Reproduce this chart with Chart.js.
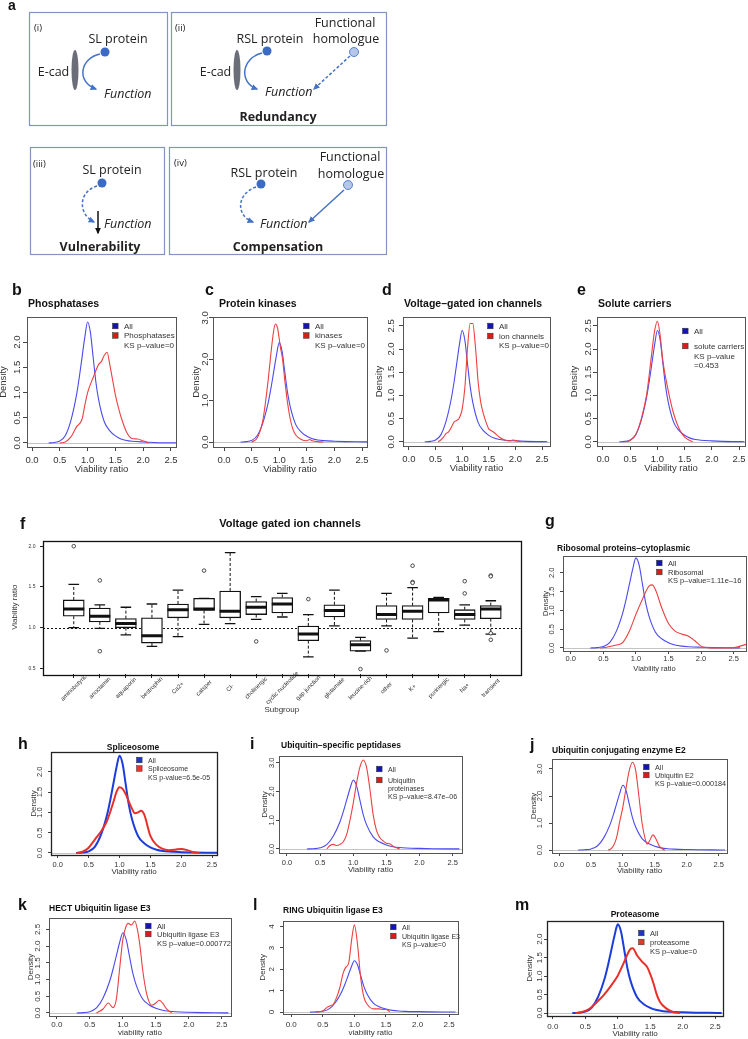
<!DOCTYPE html>
<html>
<head>
<meta charset="utf-8">
<script src="https://cdn.jsdelivr.net/npm/chart.js@4.4.1/dist/chart.umd.min.js"></script>
<style>
  html, body { margin: 0; padding: 0; background: #fff; }
  body { width: 748px; height: 1039px; position: relative; overflow: hidden; }
  canvas { position: absolute; }
  #overlay { position: absolute; left: 0; top: 0; z-index: 2; }
</style>
</head>
<body>
<svg id="overlay" width="748" height="1039" font-family="'Liberation Sans', Arial, sans-serif">
  <defs>
    <marker id="ah" viewBox="0 0 10 10" refX="8" refY="5" markerWidth="4.5" markerHeight="4.5" orient="auto"><path d="M0,0.5 L10,5 L0,9.5 z" fill="#4472c4"/></marker>
    <marker id="ahk" viewBox="0 0 10 10" refX="8" refY="5" markerWidth="4.5" markerHeight="4.5" orient="auto"><path d="M0,0.5 L10,5 L0,9.5 z" fill="#111"/></marker>
  </defs>
  <!-- panel a schematic -->
  <g font-family="'Open Sans', sans-serif" fill="#222">
    <g fill="none" stroke="#8196bc" stroke-width="1.2">
      <rect x="29.5" y="12.5" width="138" height="113"/>
      <rect x="171.5" y="12.5" width="215" height="113"/>
      <rect x="30.5" y="147.5" width="134" height="107"/>
      <rect x="169.5" y="147.5" width="217" height="107"/>
    </g>
    <g font-size="9.5"><text x="34" y="31">(i)</text><text x="175" y="31">(ii)</text><text x="33" y="167">(iii)</text><text x="174" y="166">(iv)</text></g>
    <g font-size="12.5" text-anchor="middle">
      <text x="118" y="43">SL protein</text><text x="270" y="43">RSL protein</text>
      <text x="345" y="27">Functional</text><text x="346" y="43">homologue</text>
      <text x="112" y="174">SL protein</text><text x="264" y="177">RSL protein</text>
      <text x="350" y="161">Functional</text><text x="351" y="178">homologue</text>
      <text x="53.5" y="76">E-cad</text><text x="215.5" y="76">E-cad</text>
    </g>
    <g font-size="12.5" font-style="italic">
      <text x="104" y="98">Function</text><text x="265" y="96">Function</text>
      <text x="104" y="228">Function</text><text x="260" y="228">Function</text>
    </g>
    <g font-size="12.5" font-weight="bold" text-anchor="middle">
      <text x="278" y="121">Redundancy</text><text x="100" y="251">Vulnerability</text><text x="278" y="251">Compensation</text>
    </g>
    <g fill="#6b6e78"><ellipse cx="75" cy="70" rx="3.5" ry="20"/><ellipse cx="237" cy="70" rx="3.5" ry="20"/></g>
    <g fill="#3b6bc4"><circle cx="105" cy="52" r="4.5"/><circle cx="267" cy="51" r="4.5"/><circle cx="102" cy="183" r="4.5"/><circle cx="261" cy="184" r="4.5"/></g>
    <g fill="#b4c7e7" stroke="#3b6bc4" stroke-width="0.8"><circle cx="354" cy="52" r="4.5"/><circle cx="348" cy="185" r="4.5"/></g>
    <g fill="none" stroke="#4472c4" stroke-width="1.5" marker-end="url(#ah)">
      <path d="M100,54 C80,58 76,82 96,89"/>
      <path d="M262,53 C242,58 238,82 257,89"/>
      <path d="M350,56 L314,89" stroke-dasharray="3,2"/>
      <path d="M97,186 C78,192 78,214 94,222" stroke-dasharray="3,2"/>
      <path d="M256,187 C236,194 236,216 253,222" stroke-dasharray="3,2"/>
      <path d="M344,190 L309,222"/>
    </g>
    <path d="M98,211 L98,233" stroke="#111" stroke-width="1.5" marker-end="url(#ahk)"/>
  </g>
  <!-- panel letters -->
  <g font-weight="bold" font-size="16" fill="#111">
    <text x="8" y="10" font-size="14">a</text>
    <text x="12" y="295">b</text><text x="205" y="295">c</text><text x="382" y="295">d</text><text x="577" y="295">e</text>
    <text x="20" y="529">f</text><text x="545" y="526">g</text>
    <text x="18" y="749">h</text><text x="250" y="749">i</text><text x="530" y="750">j</text>
    <text x="18" y="910">k</text><text x="253" y="910">l</text><text x="515" y="910">m</text>
  </g>
  <!-- panel titles -->
  <g font-weight="bold" fill="#111">
    <text x="28" y="307" font-size="10.5">Phosphatases</text>
    <text x="219" y="307" font-size="10.5">Protein kinases</text>
    <text x="404" y="307" font-size="10.5">Voltage–gated ion channels</text>
    <text x="598" y="307" font-size="10.5">Solute carriers</text>
    <text x="290" y="527" font-size="11" text-anchor="middle">Voltage gated ion channels</text>
    <text x="557" y="551" font-size="8.5">Ribosomal proteins–cytoplasmic</text>
    <text x="133" y="750" font-size="8.5" text-anchor="middle">Spliceosome</text>
    <text x="281" y="748" font-size="8.5">Ubiquitin–specific peptidases</text>
    <text x="552" y="753" font-size="8.5">Ubiquitin conjugating enzyme E2</text>
    <text x="49" y="911" font-size="8.5">HECT Ubiquitin ligase E3</text>
    <text x="283" y="913" font-size="8.5">RING Ubiquitin ligase E3</text>
    <text x="635" y="917" font-size="8.5" text-anchor="middle">Proteasome</text>
  </g>
  <g id="legends"></g>
</svg>
<script>
// ---- data ----
const X_TICKS = [0, 0.5, 1, 1.5, 2, 2.5];
const Y_TICKS_20 = [0, 0.5, 1, 1.5, 2];
const Y_TICKS_25 = [0, 0.5, 1, 1.5, 2, 2.5];
const Y_TICKS_3 = [0, 1, 2, 3];
const Y_TICKS_4 = [0, 1, 2, 3, 4];

// "All" genes density, shared by every density panel
const ALL_X = [0.3, 0.4, 0.5, 0.6, 0.7, 0.8, 0.85, 0.9, 0.95, 1.0, 1.05, 1.1, 1.15, 1.2, 1.3, 1.4, 1.5, 1.6, 1.7, 1.8, 2.0, 2.2, 2.4, 2.6];
const ALL_Y = [0, 0.01, 0.04, 0.15, 0.45, 0.95, 1.3, 1.7, 2.1, 2.4, 2.2, 1.7, 1.2, 0.85, 0.42, 0.24, 0.14, 0.08, 0.05, 0.035, 0.02, 0.01, 0.005, 0.003];

const PHOS_X = [0.5, 0.6, 0.7, 0.8, 0.9, 0.95, 1.0, 1.1, 1.2, 1.25, 1.3, 1.35, 1.4, 1.45, 1.5, 1.55, 1.6, 1.7, 1.8, 1.9, 2.0, 2.1];
const PHOS_Y = [0, 0.02, 0.12, 0.32, 0.47, 0.75, 1.0, 1.3, 1.56, 1.62, 1.74, 1.8, 1.55, 1.25, 0.95, 0.72, 0.52, 0.22, 0.09, 0.08, 0.04, 0];
const KIN_X = [0.5, 0.6, 0.7, 0.75, 0.8, 0.85, 0.9, 0.93, 0.97, 1.02, 1.06, 1.1, 1.15, 1.2, 1.25, 1.3, 1.4, 1.5, 1.55, 1.6, 1.7, 1.8];
const KIN_Y = [0, 0.1, 0.5, 0.95, 1.5, 2.15, 2.7, 2.85, 2.75, 2.3, 2.0, 1.5, 0.95, 0.55, 0.3, 0.17, 0.06, 0.03, 0.06, 0.03, 0.01, 0];
const ION_X = [0.55, 0.6, 0.65, 0.7, 0.75, 0.8, 0.85, 0.9, 0.95, 1.0, 1.05, 1.1, 1.15, 1.2, 1.25, 1.3, 1.35, 1.4, 1.45, 1.5, 1.55, 1.6, 1.7, 1.8, 1.9, 1.95, 2.0, 2.1];
const ION_Y = [0, 0.04, 0.1, 0.18, 0.22, 0.32, 0.43, 0.46, 0.52, 0.7, 1.15, 2.0, 2.55, 2.55, 2.05, 1.3, 0.85, 0.6, 0.42, 0.28, 0.24, 0.2, 0.1, 0.04, 0.02, 0.04, 0.03, 0];
const SOL_X = [0.4, 0.5, 0.6, 0.7, 0.8, 0.85, 0.9, 0.95, 1.0, 1.05, 1.1, 1.2, 1.3, 1.4, 1.5, 1.6, 1.65];
const SOL_Y = [0, 0.03, 0.15, 0.48, 1.0, 1.45, 1.95, 2.4, 2.6, 2.3, 1.75, 1.1, 0.6, 0.28, 0.1, 0.03, 0];
const RIB_X = [0.45, 0.55, 0.65, 0.75, 0.8, 0.9, 1.0, 1.1, 1.2, 1.25, 1.3, 1.4, 1.5, 1.6, 1.7, 1.8, 1.9, 2.0, 2.1, 2.3, 2.5, 2.6, 2.7];
const RIB_Y = [0, 0.02, 0.06, 0.1, 0.15, 0.45, 0.9, 1.3, 1.65, 1.68, 1.55, 1.05, 0.65, 0.45, 0.37, 0.32, 0.2, 0.05, 0.01, 0, 0.01, 0.05, 0.1];
const SPL_X = [0.3, 0.4, 0.5, 0.6, 0.7, 0.8, 0.9, 0.95, 1.0, 1.05, 1.1, 1.2, 1.25, 1.3, 1.35, 1.4, 1.5, 1.6, 1.7, 1.8, 1.9, 2.0, 2.1, 2.2, 2.3];
const SPL_Y = [0, 0.03, 0.13, 0.33, 0.53, 0.8, 1.25, 1.5, 1.62, 1.58, 1.45, 1.1, 0.98, 1.0, 1.04, 0.95, 0.42, 0.2, 0.1, 0.07, 0.08, 0.1, 0.07, 0.02, 0];
const USP_X = [0.6, 0.65, 0.7, 0.75, 0.8, 0.85, 0.9, 0.95, 1.0, 1.05, 1.1, 1.15, 1.2, 1.25, 1.3, 1.35, 1.4, 1.45, 1.5, 1.55, 1.6, 1.65, 1.7];
const USP_Y = [0, 0.12, 0.16, 0.12, 0.16, 0.25, 0.5, 1.0, 1.6, 2.3, 2.85, 3.1, 2.85, 2.1, 1.2, 0.65, 0.4, 0.28, 0.2, 0.18, 0.1, 0.04, 0];
const E2_X = [0.77, 0.8, 0.85, 0.9, 0.95, 1.0, 1.05, 1.1, 1.15, 1.2, 1.25, 1.3, 1.35, 1.38, 1.42, 1.47, 1.52, 1.57, 1.62, 1.66];
const E2_Y = [0, 0.02, 0.15, 0.45, 1.05, 1.6, 2.3, 2.95, 3.25, 2.95, 2.0, 1.0, 0.4, 0.22, 0.35, 0.56, 0.4, 0.15, 0.04, 0];
const HECT_X = [0.6, 0.7, 0.78, 0.85, 0.9, 0.95, 1.0, 1.05, 1.08, 1.13, 1.18, 1.22, 1.26, 1.3, 1.36, 1.44, 1.5, 1.55, 1.6, 1.66, 1.74];
const HECT_Y = [0, 0.12, 0.3, 0.16, 0.4, 1.3, 2.2, 2.6, 2.68, 2.63, 2.75, 2.5, 2.0, 1.3, 0.58, 0.23, 0.3, 0.38, 0.3, 0.13, 0];
const RING_X = [0.4, 0.5, 0.57, 0.62, 0.67, 0.72, 0.77, 0.82, 0.86, 0.91, 0.96, 1.0, 1.05, 1.1, 1.15, 1.2, 1.3, 1.4, 1.45, 1.5, 1.56];
const RING_Y = [0, 0.05, 0.23, 0.3, 0.38, 0.7, 1.15, 1.8, 2.08, 2.3, 3.46, 4.08, 3.15, 1.6, 0.7, 0.38, 0.15, 0.15, 0.12, 0.12, 0.02];
const PROT_X = [0.35, 0.45, 0.57, 0.68, 0.78, 0.9, 0.99, 1.09, 1.19, 1.23, 1.3, 1.37, 1.45, 1.5, 1.55, 1.6, 1.65, 1.75, 1.85, 1.96];
const PROT_Y = [0, 0.03, 0.12, 0.3, 0.48, 0.75, 0.98, 1.35, 1.72, 1.75, 1.55, 1.4, 1.25, 1.05, 0.8, 0.5, 0.3, 0.12, 0.03, 0];

// boxplot f
const SUBGROUPS = ['aminobutyric', 'anoctamin', 'aquaporin', 'bestrophin', 'Ca2+', 'catsper', 'Cl-', 'cholinergic', 'cyclic nucleotide', 'gap junction', 'glutamate', 'leucine-rich', 'other', 'K+', 'purinergic', 'Na+', 'transient'];
const BOX_LO  = [1.00, 0.99, 0.91, 0.77, 0.89, 1.04, 1.05, 1.10, 1.13, 0.64, 1.02, 0.71, 1.02, 0.87, 0.95, 1.03, 0.92];
const BOX_Q1  = [1.14, 1.07, 1.00, 0.81, 1.12, 1.21, 1.12, 1.16, 1.18, 0.84, 1.13, 0.71, 1.10, 1.10, 1.18, 1.10, 1.11];
const BOX_MED = [1.23, 1.14, 1.05, 0.90, 1.22, 1.23, 1.20, 1.25, 1.29, 0.92, 1.21, 0.79, 1.16, 1.20, 1.34, 1.16, 1.23];
const BOX_Q3  = [1.34, 1.24, 1.11, 1.12, 1.29, 1.36, 1.45, 1.32, 1.37, 1.02, 1.28, 0.84, 1.27, 1.27, 1.36, 1.22, 1.27];
const BOX_HI  = [1.53, 1.28, 1.25, 1.29, 1.46, 1.36, 1.92, 1.38, 1.42, 1.16, 1.46, 0.88, 1.42, 1.49, 1.37, 1.28, 1.33];
const OUT_GROUP = [1, 2, 2, 6, 8, 10, 12, 13, 14, 14, 14, 16, 16, 17, 17, 17, 17];
const OUT_VALUE = [2.0, 1.58, 0.71, 1.70, 0.83, 1.35, 0.49, 0.72, 1.76, 1.56, 1.55, 1.57, 1.42, 1.64, 1.63, 0.93, 0.85];

// ---- helpers ----
const FONT = "'Liberation Sans', Arial, sans-serif";
const THIN = {blue: '#4a4aee', red: '#ee4040', w: 1.1};
const THICK = {blue: '#1c3cdc', red: '#e8302a', w: 2};
const mctx = document.createElement('canvas').getContext('2d');
function textW(s, size) { mctx.font = size + 'px ' + FONT; return mctx.measureText(s).width; }
function fmt(v, dec) { return v.toFixed(dec); }

Chart.register({
  id: 'frame',
  afterDatasetsDraw(chart, args, o) {
    const a = chart.chartArea, ctx = chart.ctx;
    ctx.save();
    ctx.strokeStyle = o.color || '#444';
    ctx.lineWidth = o.width || 1;
    ctx.strokeRect(Math.round(a.left) + 0.5, Math.round(a.top) + 0.5, Math.round(a.right - a.left), Math.round(a.bottom - a.top));
    ctx.restore();
  }
});
Chart.register({
  id: 'refLine',
  beforeDatasetsDraw(chart, args, o) {
    if (o.value === undefined) return;
    const a = chart.chartArea, ctx = chart.ctx, y = Math.round(chart.scales.y.getPixelForValue(o.value)) + 0.5;
    ctx.save();
    ctx.strokeStyle = o.color; ctx.lineWidth = 1;
    ctx.setLineDash(o.dash || []);
    ctx.beginPath(); ctx.moveTo(a.left, y); ctx.lineTo(a.right, y); ctx.stroke();
    ctx.restore();
  }
});
Chart.register({
  id: 'rotLabels',
  afterDraw(chart, args, o) {
    if (o.offset === undefined) return;
    const xs = chart.scales.x, ctx = chart.ctx, y = chart.chartArea.bottom + o.offset;
    ctx.save();
    ctx.font = o.size + 'px ' + FONT; ctx.fillStyle = '#333';
    ctx.textAlign = 'center'; ctx.textBaseline = 'middle';
    SUBGROUPS.forEach((s, i) => {
      ctx.save(); ctx.translate(xs.getPixelForValue(i + 1), y); ctx.rotate(-Math.PI / 4);
      ctx.fillText(s, 0, 0); ctx.restore();
    });
    ctx.restore();
  }
});

function makeCanvas(L, T, w, h) {
  const c = document.createElement('canvas');
  c.width = w; c.height = h;
  c.style.left = L + 'px'; c.style.top = T + 'px';
  document.body.appendChild(c);
  return c;
}

function density(p) {
  const tl = p.tl || 4, PT = 10, PR = 10;
  const fs = p.fs, fsT = p.fsT || p.fs;
  const yw = Math.round(p.ylOff + fsT * 0.6), xh = Math.round(p.xlOff + fsT * 0.6);
  const [L, T, R, B] = p.box;
  const canvas = makeCanvas(L - yw, T - PT, R - L + yw + PR, B - T + PT + xh);
  const dec = p.dec === undefined ? 1 : p.dec;
  const widest = Math.max(...p.yt.map(v => textW(fmt(v, dec), fs)));
  const st = p.thick ? THICK : THIN;
  const grid = {drawOnChartArea: false, drawTicks: true, tickLength: tl, tickColor: '#444', tickWidth: 1};
  const line = (xs, ys, color, order) => ({
    data: xs.map((x, i) => ({x, y: ys[i]})), borderColor: color, borderWidth: st.w,
    pointRadius: 0, fill: false, cubicInterpolationMode: 'monotone', order
  });
  new Chart(canvas, {
    type: 'line',
    data: {datasets: [line(p.red[0], p.red[1], st.red, 0), line(ALL_X, ALL_Y, st.blue, 1)]},
    options: {
      responsive: false, animation: false, events: [],
      layout: {padding: {top: PT, right: PR, left: 0, bottom: 0}},
      plugins: {legend: {display: false}, tooltip: {enabled: false},
        frame: {color: p.thick ? '#222' : '#555', width: p.thick ? 1.3 : 1},
        refLine: {value: 0, color: '#c4c4c4'}},
      scales: {
        x: {
          type: 'linear', min: p.x[0], max: p.x[1],
          afterBuildTicks: s => { s.ticks = X_TICKS.map(v => ({value: v})); },
          afterFit: s => { s.height = xh; },
          grid, border: {display: false},
          ticks: {font: {family: FONT, size: fs}, color: '#333', padding: p.xtOff - tl - fs * 0.6,
            maxRotation: 0, minRotation: 0, autoSkip: false, callback: v => fmt(v, 1)},
          title: {display: true, text: p.xlab || 'Viability ratio', font: {family: FONT, size: fsT}, color: '#333', padding: 0}
        },
        y: {
          type: 'linear', min: p.y[0], max: p.y[1],
          afterBuildTicks: s => { s.ticks = p.yt.map(v => ({value: v})); },
          afterFit: s => { s.width = yw; },
          grid, border: {display: false},
          ticks: {font: {family: FONT, size: fs}, color: '#333', minRotation: 90, maxRotation: 90, crossAlign: 'center',
            padding: p.ytOff - tl - widest / 2, autoSkip: false, callback: v => fmt(v, dec)},
          title: {display: true, text: 'Density', font: {family: FONT, size: fsT}, color: '#333', padding: 0}
        }
      }
    }
  });
}

function boxplotF() {
  const L = 43, T = 537, R = 524, B = 674, PT = 10, PR = 10, tl = 3, fs = 5;
  const yw = Math.round(28 + 4.8), xh = Math.round(36 + 4.8);
  const canvas = makeCanvas(L - yw, T - PT, R - L + yw + PR, B - T + PT + xh);
  const widest = Math.max(...[0.5, 1, 1.5, 2].map(v => textW(fmt(v, 1), fs)));
  const idx = SUBGROUPS.map((_, i) => i + 1);
  const whiskers = idx.flatMap((x, i) => [
    {x, y: BOX_Q3[i]}, {x, y: BOX_HI[i]}, {x, y: null},
    {x, y: BOX_Q1[i]}, {x, y: BOX_LO[i]}, {x, y: null}]);
  const grid = {drawOnChartArea: false, offset: false, tickLength: tl, tickColor: '#222'};
  new Chart(canvas, {
    type: 'bar',
    data: {datasets: [
      {type: 'scatter', data: OUT_GROUP.map((g, i) => ({x: g, y: OUT_VALUE[i]})), pointStyle: 'circle',
        pointRadius: 1.8, borderColor: '#222', backgroundColor: '#fff', borderWidth: 0.8},
      {type: 'scatter', data: idx.map((x, i) => ({x, y: BOX_MED[i]})), pointStyle: 'line',
        pointRadius: 10.5, borderColor: '#111', borderWidth: 3},
      {type: 'scatter', data: idx.flatMap((x, i) => [{x, y: BOX_LO[i]}, {x, y: BOX_HI[i]}]), pointStyle: 'line',
        pointRadius: 5.3, borderColor: '#111', borderWidth: 1.3},
      {type: 'bar', data: idx.map((x, i) => ({x, y: [BOX_Q1[i], BOX_Q3[i]]})), backgroundColor: '#fff',
        borderColor: '#111', borderWidth: 1.3, borderSkipped: false, barThickness: 21},
      {type: 'line', data: whiskers, borderColor: '#111', borderWidth: 1, borderDash: [3, 2], pointRadius: 0, spanGaps: false}
    ]},
    options: {
      responsive: false, animation: false, events: [],
      layout: {padding: {top: PT, right: PR, left: 0, bottom: 0}},
      plugins: {legend: {display: false}, tooltip: {enabled: false},
        frame: {color: '#111', width: 1.3}, refLine: {value: 1, color: '#111', dash: [2, 2]},
        rotLabels: {offset: 14, size: 6}},
      scales: {
        x: {
          type: 'linear', min: -0.18, max: 18.14, offset: false,
          afterBuildTicks: s => { s.ticks = idx.map(v => ({value: v})); },
          afterFit: s => { s.height = xh; },
          grid: Object.assign({}, grid, {tickLength: 4}), border: {display: false},
          ticks: {callback: () => '', autoSkip: false, maxRotation: 0},
          title: {display: true, text: 'Subgroup', font: {family: FONT, size: 8}, color: '#333', padding: 0}
        },
        y: {
          type: 'linear', min: 0.43, max: 2.07,
          afterBuildTicks: s => { s.ticks = [0.5, 1, 1.5, 2].map(v => ({value: v})); },
          afterFit: s => { s.width = yw; },
          grid, border: {display: false},
          ticks: {font: {family: FONT, size: fs}, color: '#333', crossAlign: 'center',
            padding: 11 - tl - widest / 2, autoSkip: false, callback: v => fmt(v, 1)},
          title: {display: true, text: 'Viability ratio', font: {family: FONT, size: 8}, color: '#333', padding: 0}
        }
      }
    }
  });
}

// ---- panels ----
const PANELS = [
  {box: [27, 317, 176, 447], x: [-0.09, 2.59], y: [-0.08, 2.5], yt: Y_TICKS_20, fs: 9.5, xtOff: 13, xlOff: 22, ytOff: 10, ylOff: 23, red: [PHOS_X, PHOS_Y]},
  {box: [213, 317, 367, 447], x: [-0.2, 2.59], y: [-0.12, 3.02], yt: Y_TICKS_3, fs: 9.5, xtOff: 13, xlOff: 22, ytOff: 8, ylOff: 16, red: [KIN_X, KIN_Y]},
  {box: [403, 317, 550, 446], x: [-0.11, 2.65], y: [-0.09, 2.69], yt: Y_TICKS_25, fs: 9.5, xtOff: 13, xlOff: 22, ytOff: 12, ylOff: 23, red: [ION_X, ION_Y]},
  {box: [597, 317, 745, 446], x: [-0.11, 2.61], y: [-0.09, 2.69], yt: Y_TICKS_25, fs: 9.5, xtOff: 13, xlOff: 22, ytOff: 9, ylOff: 22, red: [SOL_X, SOL_Y]},
  {box: [563, 556, 746, 651], x: [-0.12, 2.69], y: [-0.08, 2.45], yt: Y_TICKS_20, fs: 7.5, tl: 3, xtOff: 8, xlOff: 17, ytOff: 11, ylOff: 17, red: [RIB_X, RIB_Y]},
  {box: [51, 752, 217, 855], x: [-0.11, 2.58], y: [-0.05, 2.49], yt: Y_TICKS_20, fs: 7.5, fsT: 8, tl: 3, xtOff: 10, xlOff: 17, ytOff: 11, ylOff: 17, red: [SPL_X, SPL_Y], thick: true},
  {box: [279, 756, 462, 853], x: [-0.12, 2.64], y: [-0.14, 3.24], yt: Y_TICKS_3, fs: 7.5, fsT: 8, tl: 3, xtOff: 10, xlOff: 17, ytOff: 7, ylOff: 14, red: [USP_X, USP_Y]},
  {box: [552, 759, 727, 853], x: [-0.11, 2.63], y: [-0.11, 3.37], yt: Y_TICKS_3, fs: 7.5, fsT: 8, tl: 3, xtOff: 12, xlOff: 18.5, ytOff: 12, ylOff: 18, red: [E2_X, E2_Y]},
  {box: [49, 918, 231, 1016], x: [-0.12, 2.64], y: [-0.09, 2.84], yt: Y_TICKS_25, fs: 8, tl: 3, xtOff: 9, xlOff: 17, ytOff: 11.5, ylOff: 18, red: [HECT_X, HECT_Y], xlab: 'viability ratio'},
  {box: [283, 920, 458, 1014], x: [-0.13, 2.64], y: [-0.09, 4.28], yt: Y_TICKS_4, dec: 0, fs: 8, tl: 3, xtOff: 11, xlOff: 19, ytOff: 11, ylOff: 20, red: [RING_X, RING_Y], xlab: 'viability ratio'},
  {box: [547, 921, 723, 1016], x: [-0.09, 2.62], y: [-0.08, 2.49], yt: Y_TICKS_20, fs: 8, tl: 3, xtOff: 11, xlOff: 18, ytOff: 7, ylOff: 17, red: [PROT_X, PROT_Y], thick: true}
];
PANELS.forEach(density);
boxplotF();

// legends: [line centre y, key colour, text]
const LEGENDS = [
  {x: 124, fs: 8, rows: [[326, 'b', 'All'], [335.5, 'r', 'Phosphatases'], [345, '', 'KS p–value=0']]},
  {x: 315, fs: 8, rows: [[326, 'b', 'All'], [335.5, 'r', 'kinases'], [345, '', 'KS p–value=0']]},
  {x: 499, fs: 8, rows: [[326, 'b', 'All'], [336, 'r', 'ion channels'], [345, '', 'KS p–value=0']]},
  {x: 694, fs: 8, rows: [[331, 'b', 'All'], [346, 'r', 'solute carriers'], [356, '', 'KS p–value'], [365, '', '=0.453']]},
  {x: 668, fs: 7.5, rows: [[563, 'b', 'All'], [572, 'r', 'Ribosomal'], [580.5, '', 'KS p–value=1.11e–16']]},
  {x: 148, fs: 7, rows: [[760, 'b', 'All'], [768.5, 'r', 'Spliceosome'], [777, '', 'KS p-value=6.5e-05']], thick: true},
  {x: 388, fs: 7, rows: [[769, 'b', 'All'], [780, 'r', 'Ubiquitin'], [788, '', 'proteinases'], [796.5, '', 'KS p–value=8.47e–06']]},
  {x: 655, fs: 7.2, rows: [[767, 'b', 'All'], [775, 'r', 'Ubiquitin E2'], [783, '', 'KS p–value=0.000184']]},
  {x: 157, fs: 7.5, rows: [[926, 'b', 'All'], [934, 'r', 'Ubiquitin ligase E3'], [943, '', 'KS p–value=0.000772']]},
  {x: 402, fs: 7, rows: [[927, 'b', 'All'], [936, 'r', 'Ubiquitin ligase E3'], [944.5, '', 'KS p–value=0']]},
  {x: 650, fs: 7.5, rows: [[933, 'b', 'All'], [942, 'r', 'proteasome'], [951, '', 'KS p–value=0']], thick: true}
];
const NS = 'http://www.w3.org/2000/svg';
const lg = document.getElementById('legends');
LEGENDS.forEach(L => {
  L.rows.forEach(([y, key, txt]) => {
    if (key) {
      const r = document.createElementNS(NS, 'rect');
      r.setAttribute('x', L.x - 11.5); r.setAttribute('y', y - 2.8);
      r.setAttribute('width', 5.6); r.setAttribute('height', 5.6);
      r.setAttribute('fill', key === 'b' ? (L.thick ? '#2233cc' : '#1414b4') : (L.thick ? '#e03a2a' : '#d81c1c'));
      r.setAttribute('stroke', '#333'); r.setAttribute('stroke-width', '0.5');
      lg.appendChild(r);
    }
    const t = document.createElementNS(NS, 'text');
    t.setAttribute('x', L.x); t.setAttribute('y', y + L.fs * 0.36);
    t.setAttribute('font-size', L.fs); t.setAttribute('fill', '#333');
    t.textContent = txt;
    lg.appendChild(t);
  });
});
</script>
</body>
</html>
